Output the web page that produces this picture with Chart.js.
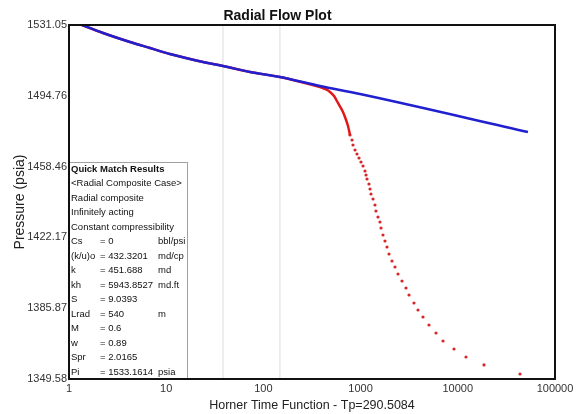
<!DOCTYPE html>
<html>
<head>
<meta charset="utf-8">
<title>Radial Flow Plot</title>
<script src="https://cdn.jsdelivr.net/npm/chart.js@4/dist/chart.umd.min.js"></script>
<style>
  html, body { margin: 0; padding: 0; background: #fff; }
  canvas { display: block; }
</style>
</head>
<body>
<canvas id="radial-flow-chart" width="579" height="414"></canvas>
<script>
// axis ticks
const xTicks = [1, 10, 100, 1000, 10000, 100000];
const yTicks = [1349.58, 1385.87, 1422.17, 1458.46, 1494.76, 1531.05];

// two light reference lines (Horner time)
const markerX = [38.4, 148];

// semilog straight line (blue)
const lineX = [1.36, 2.24, 4.24, 6.81, 10.9, 23.9, 38.4, 72.8, 148, 382, 986, 52700];
const lineY = [1531.05, 1526.95, 1522.34, 1519.26, 1516.18, 1512.08, 1510.03, 1506.96, 1504.39, 1499.78, 1495.68, 1476.2];

// measured pressure, dense part (red, reads as a line)
const dataLineX = [1.36, 2.24, 4.24, 6.81, 10.9, 23.9, 38.4, 72.8, 148, 382, 441, 484, 533, 585, 644, 691, 742, 778];
const dataLineY = [1531.05, 1526.95, 1522.34, 1519.26, 1516.18, 1512.08, 1510.03, 1506.96, 1504.39, 1499.27,
  1497.99, 1496.71, 1494.66, 1491.07, 1487.48, 1483.89, 1479.28, 1474.66];

// measured pressure, separate points (red dots)
const dataDotX = [778, 816, 835, 876, 918, 963, 1009, 1059, 1110, 1137, 1164, 1220, 1250, 1279,
  1342, 1406, 1439, 1510, 1583, 1622, 1700, 1782, 1869, 1960, 2104, 2259, 2426, 2667, 2931,
  3148, 3542, 3896, 4385, 5055, 5970, 7045, 9140, 12140, 18600, 43650];
const dataDotY = [1474.66, 1472.10, 1469.54, 1466.97, 1464.92, 1462.87, 1460.82, 1458.77, 1456.21,
  1454.16, 1452.11, 1449.55, 1446.98, 1444.42, 1441.86, 1438.78, 1435.71, 1432.63, 1430.07,
  1426.99, 1423.40, 1420.33, 1417.25, 1413.66, 1410.08, 1407.00, 1403.41, 1399.82, 1396.24,
  1392.65, 1388.55, 1384.96, 1381.37, 1377.27, 1373.17, 1369.07, 1364.97, 1360.87, 1356.77, 1352.15];

// results box text
const boxTitle = 'Quick Match Results';
const boxNotes = ['<Radial Composite Case>', 'Radial composite', 'Infinitely acting', 'Constant compressibility'];
const boxParams = [
  ['Cs', '= 0', 'bbl/psi'],
  ['(k/u)o', '= 432.3201', 'md/cp'],
  ['k', '= 451.688', 'md'],
  ['kh', '= 5943.8527', 'md.ft'],
  ['S', '= 9.0393', ''],
  ['Lrad', '= 540', 'm'],
  ['M', '= 0.6', ''],
  ['w', '= 0.89', ''],
  ['Spr', '= 2.0165', ''],
  ['Pi', '= 1533.1614', 'psia']
];

const FONT = "'Liberation Sans', Arial, Helvetica, sans-serif";
const toPoints = (xs, ys) => xs.map((x, i) => ({ x: x, y: ys[i] }));
const yMin = yTicks[0];
const yMax = yTicks[yTicks.length - 1];

// box + frame, drawn on top of the datasets
const overlayPlugin = {
    id: 'overlay',
    afterDraw(chart) {
        const ctx = chart.ctx;
        const area = chart.chartArea;
        ctx.save();

        // quick match results box
        const bx = area.left, by = 162, bw = 118, bh = area.bottom - 162;
        ctx.fillStyle = '#fff';
        ctx.fillRect(bx, by, bw, bh);
        ctx.strokeStyle = '#a0a0a0';
        ctx.lineWidth = 1;
        ctx.strokeRect(bx + 0.5, by + 0.5, bw, bh);

        const step = 14.5;
        let y = 169;
        ctx.fillStyle = '#111';
        ctx.textBaseline = 'middle';
        ctx.textAlign = 'left';
        ctx.font = 'bold 9.5px ' + FONT;
        ctx.fillText(boxTitle, bx + 2, y);
        ctx.font = '9.5px ' + FONT;
        boxNotes.forEach(t => { y += step; ctx.fillText(t, bx + 2, y); });
        boxParams.forEach(p => {
            y += step;
            ctx.fillText(p[0], bx + 2, y);
            ctx.fillText(p[1], bx + 31, y);
            ctx.fillText(p[2], bx + 89, y);
        });

        // plot frame
        ctx.strokeStyle = '#111';
        ctx.lineWidth = 2;
        ctx.strokeRect(area.left, area.top, area.right - area.left, area.bottom - area.top);
        ctx.restore();
    }
};

const datasets = [
    {
        label: 'Straight line',
        data: toPoints(lineX, lineY),
        showLine: true,
        cubicInterpolationMode: 'monotone',
        borderColor: '#2020d0',
        borderWidth: 2.5,
        pointRadius: 0,
        order: 0
    },
    {
        label: 'Pressure',
        data: toPoints(dataLineX, dataLineY),
        showLine: true,
        tension: 0.2,
        borderColor: '#e01818',
        borderWidth: 2.5,
        pointRadius: 0,
        order: 1
    },
    {
        label: 'Pressure points',
        data: toPoints(dataDotX, dataDotY),
        showLine: false,
        backgroundColor: '#d42828',
        borderWidth: 0,
        pointRadius: 1.6,
        order: 2
    }
];
markerX.forEach((mx, i) => {
    datasets.push({
        label: 'marker ' + (i + 1),
        data: [{ x: mx, y: yMin }, { x: mx, y: yMax }],
        showLine: true,
        borderColor: '#dcdcdc',
        borderWidth: 1,
        pointRadius: 0,
        order: 10
    });
});

const ctx = document.getElementById('radial-flow-chart').getContext('2d');
new Chart(ctx, {
    type: 'scatter',
    data: { datasets: datasets },
    options: {
        responsive: false,
        animation: false,
        devicePixelRatio: 1,
        layout: { padding: { left: 0, right: 24, top: 0, bottom: 0 } },
        plugins: {
            legend: { display: false },
            tooltip: { enabled: false },
            title: {
                display: true,
                text: 'Radial Flow Plot',
                color: '#111',
                font: { family: FONT, size: 14, weight: 'bold', lineHeight: 1 },
                padding: { top: 9, bottom: 2 }
            }
        },
        scales: {
            x: {
                type: 'logarithmic',
                min: xTicks[0],
                max: xTicks[xTicks.length - 1],
                grid: { display: false, drawTicks: false },
                border: { display: false },
                afterBuildTicks: axis => { axis.ticks = xTicks.map(v => ({ value: v })); },
                afterFit: axis => { axis.height = 35; },
                ticks: {
                    autoSkip: false,
                    maxRotation: 0,
                    padding: 3,
                    color: '#333',
                    font: { family: FONT, size: 11 },
                    callback: v => String(v)
                },
                title: {
                    display: true,
                    text: 'Horner Time Function - Tp=290.5084',
                    color: '#222',
                    font: { family: FONT, size: 12.5 },
                    padding: { top: 0, bottom: 1 }
                }
            },
            y: {
                min: yMin,
                max: yMax,
                grid: { display: false, drawTicks: false },
                border: { display: false },
                afterBuildTicks: axis => { axis.ticks = yTicks.map(v => ({ value: v })); },
                afterFit: axis => { axis.width = 69; },
                ticks: {
                    autoSkip: false,
                    padding: 2,
                    color: '#333',
                    font: { family: FONT, size: 11 },
                    callback: v => v.toFixed(2)
                },
                title: {
                    display: true,
                    text: 'Pressure (psia)',
                    color: '#222',
                    font: { family: FONT, size: 14 },
                    padding: { top: 12, bottom: 0 }
                }
            }
        }
    },
    plugins: [overlayPlugin]
});
</script>
</body>
</html>
